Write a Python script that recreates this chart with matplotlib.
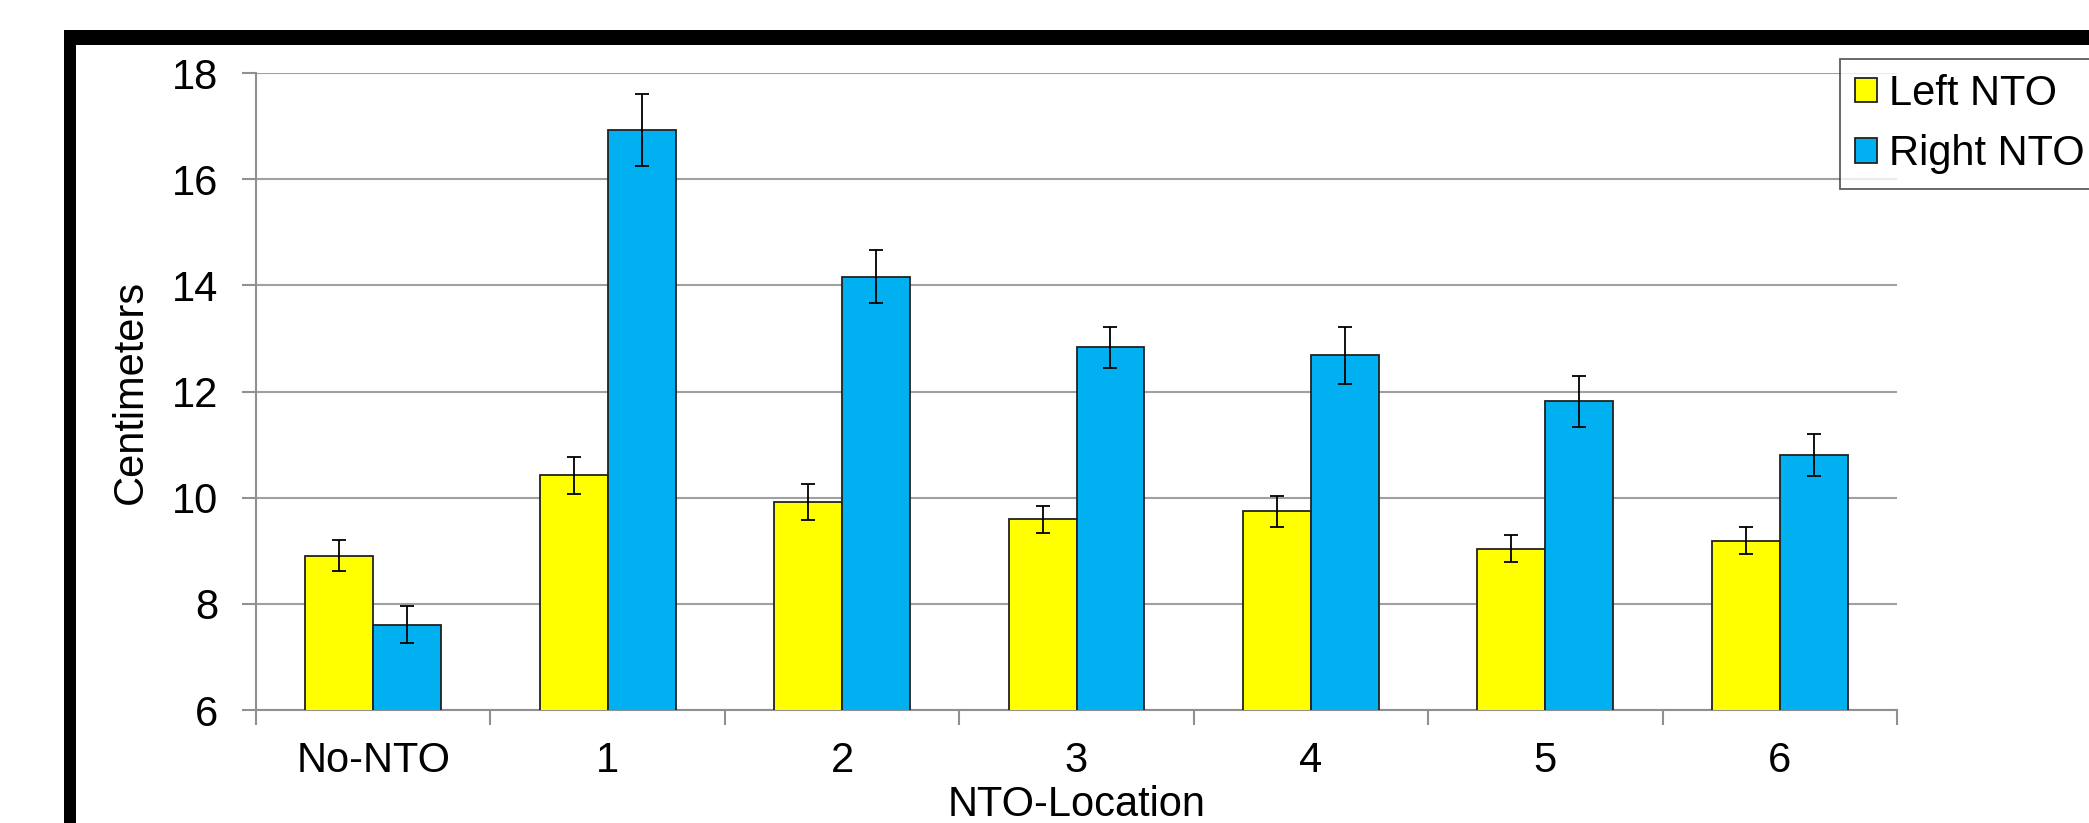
import numpy as np
import matplotlib.pyplot as plt
from matplotlib.patches import Rectangle

plt.rcParams['font.family'] = ['Liberation Sans', 'DejaVu Sans']

categories = ['No-NTO', '1', '2', '3', '4', '5', '6']
left_nto = [8.91, 10.42, 9.92, 9.59, 9.74, 9.04, 9.19]
left_err = [0.29, 0.35, 0.34, 0.25, 0.29, 0.26, 0.26]
right_nto = [7.61, 16.92, 14.16, 12.83, 12.68, 11.82, 10.80]
right_err = [0.35, 0.68, 0.50, 0.38, 0.54, 0.48, 0.39]

W, H = 2089, 823
FS = 30
fig = plt.figure(figsize=(W / 100, H / 100), dpi=100)
ax = fig.add_axes([256 / W, 1 - 710 / H, (1897 - 256) / W, (710 - 73) / H])

x = np.arange(len(categories))
bw = 0.29
ekw = dict(ecolor='black', elinewidth=1.3, capsize=4.7, capthick=1.3)
ax.bar(x - bw / 2, left_nto, bw, color='#FFFF00', edgecolor='#222222',
       linewidth=1.3, yerr=left_err, error_kw=ekw, label='Left NTO', zorder=3)
ax.bar(x + bw / 2, right_nto, bw, color='#00B0F0', edgecolor='#222222',
       linewidth=1.3, yerr=right_err, error_kw=ekw, label='Right NTO', zorder=3)

ax.set_ylim(6, 18)
ax.set_xlim(-0.5, len(categories) - 0.5)
ax.set_yticks(np.arange(6, 19, 2))
ax.yaxis.grid(True, color='#a0a0a0', linewidth=1.5, zorder=0)
ax.set_axisbelow(True)

# tick marks at category boundaries, labels at centres
ax.set_xticks(np.arange(-0.5, len(categories), 1.0))
ax.set_xticklabels([])
ax.set_xticks(x, minor=True)
ax.set_xticklabels(categories, minor=True)
ax.tick_params(axis='x', which='major', length=11, width=1.5, color='#909090')
ax.tick_params(axis='x', which='minor', length=0, pad=22, labelsize=FS)
ax.tick_params(axis='y', length=10, width=1.5, color='#909090', labelsize=FS, pad=17)

for s in ['top', 'right']:
    ax.spines[s].set_visible(False)
for s in ['left', 'bottom']:
    ax.spines[s].set_color('#909090')
    ax.spines[s].set_linewidth(1.5)

ax.set_ylabel('Centimeters', fontsize=FS, labelpad=15)
ax.set_xlabel('NTO-Location', fontsize=FS, labelpad=3)

leg = fig.legend(loc='upper left', bbox_to_anchor=(1840 / W, 1 - 59 / H),
                 fontsize=FS, frameon=True, fancybox=False, edgecolor='#333333',
                 handlelength=0.53, handleheight=0.53, handletextpad=0.3,
                 borderpad=0.35, labelspacing=0.5, borderaxespad=0)
leg.get_frame().set_linewidth(1.3)

# black frame at top and left (screenshot border)
fig.add_artist(Rectangle((64 / W, 1 - 45 / H), 1, 15 / H, transform=fig.transFigure,
                         facecolor='black', edgecolor='none'))
fig.add_artist(Rectangle((64 / W, 0), 12 / W, 1 - 30 / H, transform=fig.transFigure,
                         facecolor='black', edgecolor='none'))

fig.savefig('out.png', dpi=100)
